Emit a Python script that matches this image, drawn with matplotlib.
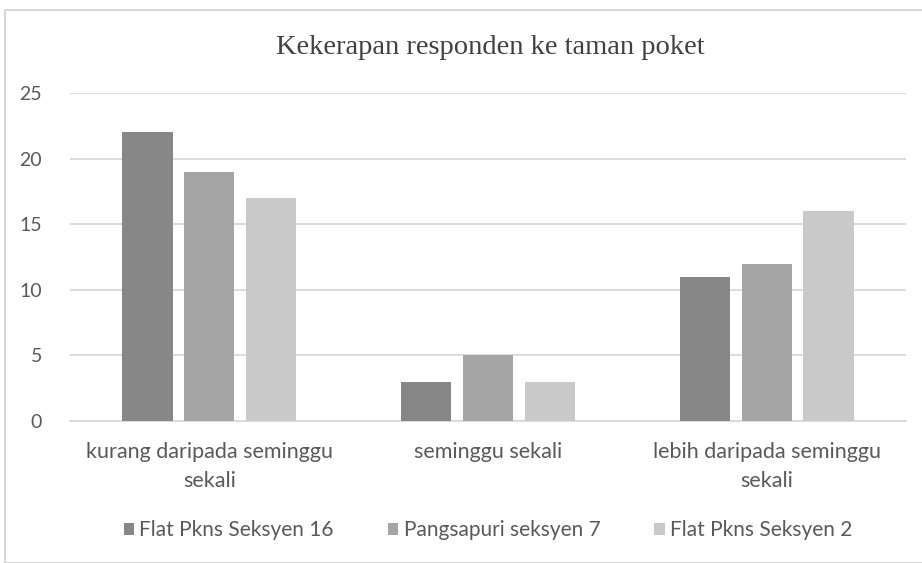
import numpy as np
import matplotlib.pyplot as plt
from matplotlib.patches import Rectangle

# data
categories = ['kurang daripada seminggu\nsekali', 'seminggu sekali', 'lebih daripada seminggu\nsekali']
series_names = ['Flat Pkns Seksyen 16', 'Pangsapuri seksyen 7', 'Flat Pkns Seksyen 2']
flat_16 = [22, 3, 11]
pangsapuri_7 = [19, 5, 12]
flat_2 = [17, 3, 16]
colors = ['#878787', '#a5a5a5', '#c9c9c9']
yticks = [0, 5, 10, 15, 20, 25]

W, H = 922, 563
fig = plt.figure(figsize=(W / 100, H / 100), dpi=100)

# outer chart border
fig.patches.append(Rectangle((5 / W, 0), 1, 1 - 10 / H, transform=fig.transFigure,
                             fill=False, edgecolor='#d0d0d0', linewidth=1.2))

ax = fig.add_axes([70 / W, 1 - 421 / H, (906 - 70) / W, (421 - 93) / H])

x = np.arange(len(categories))
width = 0.18
step = 0.222
for i, (vals, name) in enumerate(zip([flat_16, pangsapuri_7, flat_2], series_names)):
    ax.bar(x + (i - 1) * step, vals, width, color=colors[i], label=name, zorder=3)

sans = ['Lato', 'DejaVu Sans']
ax.set_xlim(-0.5, 2.5)
ax.set_ylim(0, 25)
ax.set_yticks(yticks)
ax.set_yticklabels([str(t) for t in yticks], family=sans, fontsize=14, color='#595959')
ax.set_xticks(x)
ax.set_xticklabels(categories, family=sans, fontsize=15.5, color='#595959', linespacing=1.55)
ax.tick_params(axis='y', length=0, pad=20)
ax.tick_params(axis='x', length=0, pad=15)
ax.yaxis.grid(True, color='#d9d9d9', linewidth=1.3, zorder=0)
for s in ['top', 'right', 'left']:
    ax.spines[s].set_visible(False)
ax.spines['bottom'].set_color('#d9d9d9')
ax.spines['bottom'].set_linewidth(1.3)

fig.text(490 / W, 1 - 47 / H, 'Kekerapan responden ke taman poket',
         family='Liberation Serif', fontsize=20.5, color='#404040', ha='center', va='center')

fig.legend(loc='center', bbox_to_anchor=(488 / W, 1 - 530 / H), ncol=3, frameon=False,
           prop={'family': sans, 'size': 15},
           labelcolor='#595959', handlelength=0.5, handleheight=0.5, handletextpad=0.25,
           columnspacing=2.6)

fig.savefig('out.png', dpi=100)
